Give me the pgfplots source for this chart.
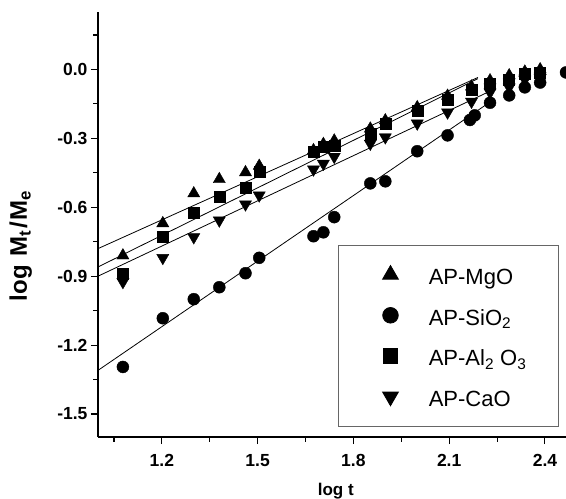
\documentclass[border=0pt]{standalone}
\usepackage{fontspec}
\setmainfont{Liberation Sans}
\usepackage{pgfplots}
\pgfplotsset{compat=1.18}
\usetikzlibrary{calc}

\pgfplotsset{
  dots/.style={only marks, black,
    legend image code/.code={\path[draw=none,fill=none] (0pt,-1pt) rectangle (75pt,1pt);
      \draw[mark repeat=2,mark phase=2,##1] plot coordinates {(0pt,0pt) (40pt,0pt) (75pt,0pt)};}},
}

\begin{document}
\begin{tikzpicture}
\begin{axis}[
  scale only axis, width=468pt, height=425pt,
  xmin=1.0, xmax=2.466, ymin=-1.6, ymax=0.25,
  axis x line*=bottom, axis y line*=left,
  axis line style={line width=1.2pt},
  tick align=outside,
  major tick length=7pt, minor tick length=4.5pt,
  every tick/.append style={black, line width=1.1pt},
  xtick={1.2,1.5,1.8,2.1,2.4}, xticklabels={1.2,1.5,1.8,2.1,2.4},
  minor xtick={1.05,1.35,1.65,1.95,2.25},
  ytick={-1.5,-1.2,-0.9,-0.6,-0.3,0}, yticklabels={-1.5,-1.2,-0.9,-0.6,-0.3,0.0},
  minor ytick={-1.35,-1.05,-0.75,-0.45,-0.15,0.15},
  tick label style={font=\bfseries\fontsize{17.5}{20}\selectfont},
  xticklabel style={yshift=-7pt},
  xlabel={\textbf{log t}},
  ylabel={\textbf{log\hspace{9pt}M\textsubscript{t}\hspace{1pt}/\hspace{2pt}M\textsubscript{e}}},
  xlabel style={at={(axis description cs:0.508,-0.138)}, anchor=base, font=\fontsize{17}{20}\selectfont},
  ylabel style={at={(axis description cs:-0.165,0.45)}, anchor=center, font=\fontsize{24}{28}\selectfont},
  legend style={at={(rel axis cs:0.513,0.452)}, anchor=north west,
    draw=black!60, line width=0.8pt, inner xsep=12pt, inner ysep=16pt,
    font=\fontsize{22}{26}\selectfont, row sep=14pt,
    nodes={text height=20pt, text depth=0pt, inner sep=3.33pt}},
  legend cell align=left,
  legend image post style={every mark/.append style={scale=1.3}},
]
% fitted lines
\addplot[black, line width=0.8pt, forget plot] coordinates {(1.0,-0.78) (2.19,-0.035)};
\addplot[black, line width=0.8pt, forget plot] coordinates {(1.0,-0.86) (2.19,-0.04)};
\addplot[black, line width=0.8pt, forget plot] coordinates {(1.0,-0.90) (2.22,-0.10)};
\addplot[black, line width=0.8pt, forget plot] coordinates {(1.0,-1.31) (2.23,-0.14)};

% AP-MgO
\addplot[dots, mark=triangle*, mark size=7pt] coordinates {
  (1.078,-0.81) (1.203,-0.67) (1.30,-0.54) (1.38,-0.478) (1.462,-0.448) (1.505,-0.42)
  (1.675,-0.352) (1.706,-0.325) (1.74,-0.31) (1.853,-0.258) (1.90,-0.222) (2.0,-0.165)
  (2.095,-0.115) (2.17,-0.075) (2.228,-0.048) (2.288,-0.026) (2.337,-0.010) (2.385,0.0)
};
\addlegendentry{\makebox[114pt][l]{AP-MgO}}

% AP-SiO2
\addplot[dots, mark=*, mark size=6pt] coordinates {
  (1.078,-1.295) (1.203,-1.083) (1.30,-1.0) (1.38,-0.948) (1.462,-0.887) (1.505,-0.82)
  (1.675,-0.726) (1.706,-0.709) (1.74,-0.643) (1.853,-0.496) (1.90,-0.487) (2.0,-0.356)
  (2.095,-0.287) (2.165,-0.22) (2.18,-0.20) (2.228,-0.145) (2.288,-0.113) (2.337,-0.078)
  (2.385,-0.057) (2.466,-0.013)
};
\addlegendentry{AP-SiO\textsubscript{2}}

% AP-Al2O3
\addplot[dots, mark=square*, mark size=5.5pt] coordinates {
  (1.078,-0.887) (1.203,-0.73) (1.30,-0.625) (1.38,-0.552) (1.462,-0.513) (1.505,-0.445)
  (1.675,-0.36) (1.706,-0.335) (1.74,-0.33) (1.853,-0.28) (1.90,-0.236) (2.0,-0.178)
  (2.095,-0.13) (2.17,-0.09) (2.228,-0.06) (2.288,-0.045) (2.337,-0.02) (2.385,-0.013)
};
\addlegendentry{AP-Al\textsubscript{2} O\textsubscript{3}}

% AP-CaO
\addplot[dots, mark=triangle*, mark size=7pt, mark options={rotate=180}] coordinates {
  (1.078,-0.925) (1.203,-0.82) (1.30,-0.73) (1.38,-0.657) (1.462,-0.587) (1.505,-0.548)
  (1.675,-0.435) (1.706,-0.41) (1.74,-0.38) (1.853,-0.323) (1.90,-0.295) (2.0,-0.235)
  (2.095,-0.187) (2.17,-0.14) (2.228,-0.10) (2.288,-0.078) (2.337,-0.045) (2.385,-0.037)
};
\addlegendentry{AP-CaO}

\coordinate (sw) at (rel axis cs:0,0);
\coordinate (ne) at (rel axis cs:1,1);
\end{axis}
\pgfresetboundingbox
\path[use as bounding box] ($(sw)+(-98pt,-61pt)$) rectangle ($(ne)+(0pt,12pt)$);
\end{tikzpicture}
\end{document}
